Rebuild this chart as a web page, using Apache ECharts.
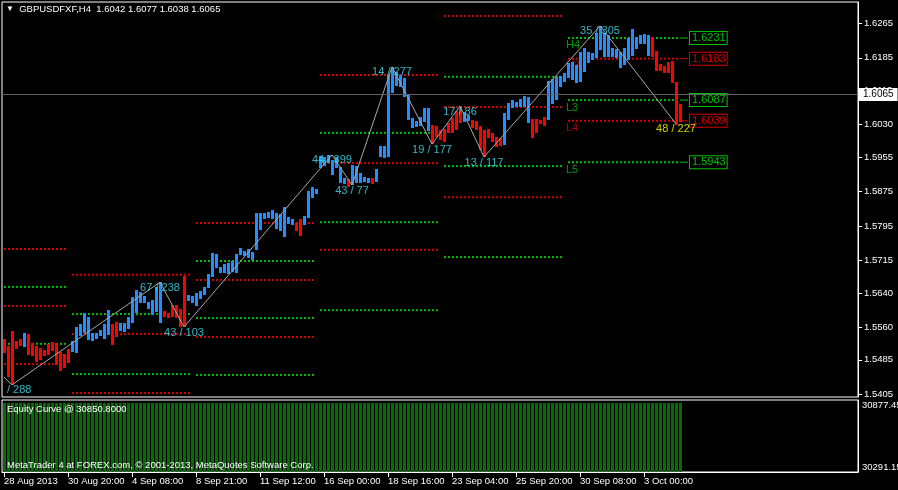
<!DOCTYPE html>
<html><head><meta charset="utf-8">
<script src="https://cdn.jsdelivr.net/npm/echarts@6/dist/echarts.min.js"></script>
<style>html,body{margin:0;padding:0;background:#000}#c{width:898px;height:490px}</style>
</head><body><div id="c"></div>
<script>
const FONT = 'Liberation Sans, Arial, sans-serif';
const slotCount = 214;
const tickLabels = ['28 Aug 2013','30 Aug 20:00','4 Sep 08:00','8 Sep 21:00','11 Sep 12:00','16 Sep 00:00','18 Sep 16:00','23 Sep 04:00','25 Sep 20:00','30 Sep 08:00','3 Oct 00:00'];
const priceTicks = [1.6265,1.6185,1.6110,1.6030,1.5955,1.5875,1.5795,1.5715,1.5640,1.5560,1.5485,1.5405];
const equityTicks = [30291.15, 30877.45];
const lastPrice = 1.6065;

const barOpen = [
1.5533,1.5517,1.5552,1.5529,1.5533,1.5515,1.5545,1.5524,1.5517,1.5512,
1.5508,1.5522,1.5526,1.5524,1.5503,1.5498,1.5510,1.5503,1.5501,1.5540,
1.5547,1.5531,1.5529,1.5533,1.5540,1.5533,1.5542,1.5568,1.5573,1.5552,
1.5550,1.5556,1.5570,1.5593,1.5617,1.5617,1.5603,1.5589,1.5596,1.5570,
1.5598,1.5593,1.5612,1.5612,1.5603,1.5679,1.5621,1.5617,1.5610,1.5626,
1.5635,1.5651,1.5677,1.5698,1.5686,1.5686,1.5684,1.5689,1.5686,1.5728,
1.5726,1.5721,1.5716,1.5740,1.5786,1.5811,1.5814,1.5811,1.5788,1.5784,
1.5770,1.5800,1.5797,1.5802,1.5811,1.5797,1.5814,1.5860,1.5869,1.5930,
1.5934,1.5941,1.5913,1.5930,1.5895,1.5892,1.5904,1.5890,1.5895,1.5895,
1.5897,1.5895,1.5906,1.5897,1.5955,1.5953,1.5955,1.6103,1.6120,1.6117,
1.6094,1.6041,1.6022,1.6025,1.6027,1.6036,1.6015,1.6029,1.6027,1.6018,
1.6020,1.6034,1.6046,1.6062,1.6073,1.6036,1.6039,1.6041,1.6039,1.6027,
1.6018,1.6020,1.6011,1.6001,1.5999,1.5983,1.6041,1.6069,1.6071,1.6071,
1.6071,1.6034,1.6043,1.6043,1.6041,1.6048,1.6041,1.6078,1.6087,1.6117,
1.6129,1.6138,1.6134,1.6127,1.6129,1.6152,1.6173,1.6180,1.6185,1.6203,
1.6187,1.6187,1.6187,1.6185,1.6161,1.6168,1.6180,1.6189,1.6205,1.6217,
1.6217,1.6189,1.6233,1.6201,1.6171,1.6166,1.6175,1.6178,1.6129,1.6078
];
const barClose = [
1.5501,1.5445,1.5427,1.5510,1.5517,1.5547,1.5496,1.5494,1.5480,1.5485,
1.5494,1.5496,1.5505,1.5473,1.5459,1.5466,1.5478,1.5529,1.5561,1.5568,
1.5593,1.5584,1.5547,1.5547,1.5554,1.5568,1.5600,1.5519,1.5538,1.5570,
1.5571,1.5584,1.5631,1.5647,1.5642,1.5633,1.5619,1.5624,1.5654,1.5665,
1.5584,1.5582,1.5584,1.5582,1.5561,1.5561,1.5635,1.5633,1.5640,1.5644,
1.5654,1.5684,1.5732,1.5730,1.5700,1.5707,1.5709,1.5714,1.5730,1.5744,
1.5737,1.5742,1.5735,1.5825,1.5825,1.5825,1.5828,1.5832,1.5825,1.5823,
1.5839,1.5816,1.5811,1.5784,1.5772,1.5818,1.5876,1.5886,1.5881,1.5957,
1.5955,1.5960,1.5948,1.5955,1.5932,1.5906,1.5886,1.5937,1.5934,1.5918,
1.5909,1.5906,1.5892,1.5927,1.5981,1.5980,1.6145,1.6164,1.6152,1.6145,
1.6138,1.6099,1.6046,1.6039,1.6048,1.6069,1.6069,1.5985,1.6001,1.5995,
1.5990,1.6011,1.6011,1.6018,1.6034,1.6059,1.6052,1.6022,1.6018,1.5971,
1.5955,1.5999,1.5990,1.5978,1.5980,1.6057,1.6080,1.6087,1.6083,1.6090,
1.6096,1.6094,1.5999,1.6011,1.6032,1.6027,1.6131,1.6136,1.6141,1.6143,
1.6150,1.6173,1.6175,1.6168,1.6199,1.6208,1.6199,1.6196,1.6243,1.6259,
1.6243,1.6238,1.6208,1.6205,1.6199,1.6208,1.6231,1.6252,1.6233,1.6238,
1.6240,1.6238,1.6187,1.6154,1.6154,1.6150,1.6150,1.6127,1.6030,1.6036
];

const equityValues = [
30850.8,30850.8,30850.8,30850.8,30850.8,30850.8,30850.8,30850.8,30850.8,30850.8,
30850.8,30850.8,30850.8,30850.8,30850.8,30850.8,30850.8,30850.8,30850.8,30850.8,
30850.8,30850.8,30850.8,30850.8,30850.8,30850.8,30850.8,30850.8,30850.8,30850.8,
30850.8,30850.8,30850.8,30850.8,30850.8,30850.8,30850.8,30850.8,30850.8,30850.8,
30850.8,30850.8,30850.8,30850.8,30850.8,30850.8,30850.8,30850.8,30850.8,30850.8,
30850.8,30850.8,30850.8,30850.8,30850.8,30850.8,30850.8,30850.8,30850.8,30850.8,
30850.8,30850.8,30850.8,30850.8,30850.8,30850.8,30850.8,30850.8,30850.8,30850.8,
30850.8,30850.8,30850.8,30850.8,30850.8,30850.8,30850.8,30850.8,30850.8,30850.8,
30850.8,30850.8,30850.8,30850.8,30850.8,30850.8,30850.8,30850.8,30850.8,30850.8,
30850.8,30850.8,30850.8,30850.8,30850.8,30850.8,30850.8,30850.8,30850.8,30850.8,
30850.8,30850.8,30850.8,30850.8,30850.8,30850.8,30850.8,30850.8,30850.8,30850.8,
30850.8,30850.8,30850.8,30850.8,30850.8,30850.8,30850.8,30850.8,30850.8,30850.8,
30850.8,30850.8,30850.8,30850.8,30850.8,30850.8,30850.8,30850.8,30850.8,30850.8,
30850.8,30850.8,30850.8,30850.8,30850.8,30850.8,30850.8,30850.8,30850.8,30850.8,
30850.8,30850.8,30850.8,30850.8,30850.8,30850.8,30850.8,30850.8,30850.8,30850.8,
30850.8,30850.8,30850.8,30850.8,30850.8,30850.8,30850.8,30850.8,30850.8,30850.8,
30850.8,30850.8,30850.8,30850.8,30850.8,30850.8,30850.8,30850.8,30850.8,30850.8
];

const zzIndex = [0,2,39,45,82,87,97,107,114,120,149,168];
const zzPrice = [1.5445,1.5427,1.5665,1.5561,1.5960,1.5890,1.6164,1.5985,1.6073,1.5955,1.6259,1.6032];
const zzText  = ['','/ 288','67 / 238','43 / 103','44 / 399','43 / 77','14 / 277','19 / 177','17 / 86','13 / 117','35 / 305','48 / 227'];

const weekStart = [0,17,48,79,110,141];
const weekEnd   = [16,47,78,109,140,169];
const pivH5 = [1.5742,1.5682,1.5802,1.6145,1.6282,null];
const pivH4 = [1.5654,1.5591,1.5714,1.6011,1.6141,1.6231];
const pivH3 = [1.5610,1.5545,1.5670,1.5941,1.6071,1.6183];
const pivL3 = [1.5522,1.5452,1.5582,1.5804,1.5934,1.6087];
const pivL4 = [1.5475,1.5408,1.5538,1.5740,1.5862,1.6039];
const pivL5 = [null,null,1.5450,1.5600,1.5723,1.5943];

const GREEN = '#00C000', RED = '#D80000';
const BOX_GREEN = '#00C000', BOX_RED = '#D00000';
const UP = '#1E90FF', DOWN = '#FF0000';
const levelSets = [
  {name:'H5', vals:pivH5, color:RED, box:BOX_RED},
  {name:'H4', vals:pivH4, color:GREEN, box:BOX_GREEN},
  {name:'H3', vals:pivH3, color:RED, box:BOX_RED},
  {name:'L3', vals:pivL3, color:GREEN, box:BOX_GREEN},
  {name:'L4', vals:pivL4, color:RED, box:BOX_RED},
  {name:'L5', vals:pivL5, color:GREEN, box:BOX_GREEN}
];

const categories = Array.from({length: slotCount}, (_, i) => String(i));
const barData = barOpen.map((o, i) => [i, o, barClose[i]]);
const equityData = equityValues.map((v, i) => [i, v]);

const series = [];
levelSets.forEach(ls => {
  ls.vals.forEach((v, w) => {
    if (v === null) return;
    series.push({
      type:'line', xAxisIndex:0, yAxisIndex:0, silent:true, symbol:'none', z:1,
      data:[[weekStart[w], v],[weekEnd[w], v]],
      lineStyle:{color:ls.color, width:2, type:[2,2]}
    });
  });
});
const lastW = weekStart.length - 1;
levelSets.forEach(ls => {
  const v = ls.vals[lastW];
  if (v === null) return;
  series.push({
    type:'line', xAxisIndex:0, yAxisIndex:0, silent:true, symbol:'none', z:1,
    data:[[weekEnd[lastW], v],[weekEnd[lastW] + 2, v]],
    lineStyle:{color:ls.box, width:1, type:'solid'},
    endLabel:{show:true, formatter: v.toFixed(4), color: ls.box, fontFamily:FONT, fontSize:11,
      borderColor: ls.box, borderWidth:1, backgroundColor:'#000', padding:[1,1,0,2], distance:2}
  });
});
series.push({
  type:'scatter', xAxisIndex:0, yAxisIndex:0, silent:true, symbolSize:0, z:2,
  data: levelSets.filter(ls => ls.vals[lastW] !== null).map(ls => ({
    value:[weekStart[lastW], ls.vals[lastW]],
    label:{show:true, formatter: ls.name, color: ls.color, fontFamily:FONT, fontSize:11,
      position:'inside', align:'left', verticalAlign:'top', offset:[-2, 2]}
  }))
});
series.push({
  type:'line', xAxisIndex:0, yAxisIndex:0, silent:true, symbol:'none', z:2,
  data:[],
  markLine:{silent:true, symbol:['none','none'],
    lineStyle:{color:'#606060', type:'solid', width:1},
    label:{show:true, position:'end', formatter: lastPrice.toFixed(4), color:'#000', backgroundColor:'#fff',
      fontFamily:FONT, fontSize:10, padding:[2,4,1,4], distance:1},
    data:[{yAxis:lastPrice}]}
});
series.push({
  type:'custom', xAxisIndex:0, yAxisIndex:0, silent:true, z:3,
  data: barData, encode:{x:0, y:[1,2]},
  renderItem:(params, api) => {
    const i = api.value(0), o = api.value(1), c = api.value(2);
    const p1 = api.coord([i, o]), p2 = api.coord([i, c]);
    const x = Math.round(p1[0]) - 1;
    const y1 = Math.round(Math.min(p1[1], p2[1]));
    const y2 = Math.round(Math.max(p1[1], p2[1]));
    return {type:'rect', shape:{x:x, y:y1, width:3, height:Math.max(1, y2 - y1)},
      style:{fill: c >= o ? UP : DOWN}};
  }
});
series.push({
  type:'line', xAxisIndex:0, yAxisIndex:0, silent:true, symbol:'none', z:4,
  data: zzIndex.map((x, k) => [x, zzPrice[k]]),
  lineStyle:{color:'#A8A8A8', width:1}
});
series.push({
  type:'scatter', xAxisIndex:0, yAxisIndex:0, silent:true, symbolSize:0, z:5,
  data: zzIndex.map((x, k) => {
    const last = k === zzIndex.length - 1;
    const first = k === 1;
    return {value:[x, zzPrice[k]], label:{show:true, formatter: zzText[k],
      color: last ? '#FFFF00' : '#40E0F0', fontFamily:FONT, fontSize:11,
      position:'inside', align: first ? 'left' : 'center', verticalAlign:'top', offset: first ? [-5, 0] : [0, 0]}};
  })
});
series.push({
  type:'custom', xAxisIndex:1, yAxisIndex:1, silent:true, z:2,
  data: equityData, encode:{x:0, y:1},
  renderItem:(params, api) => {
    const i = api.value(0), v = api.value(1);
    const top = api.coord([i, v]);
    const base = api.coord([i, equityTicks[0]]);
    const x = Math.round(top[0]) - 1;
    const y1 = Math.round(top[1]);
    return {type:'rect', shape:{x:x, y:y1, width:3, height:Math.round(base[1]) - y1},
      style:{fill:'#007000'}};
  }
});

const tickInterval = (i) => i % 16 === 0 && i / 16 < tickLabels.length;

const option = {
  animation:false,
  backgroundColor:'#000',
  title:[
    {left:6, top:4, padding:0, text:'{a|▼}  GBPUSDFXF,H4  1.6042 1.6077 1.6038 1.6065',
      textStyle:{color:'#fff', fontFamily:FONT, fontSize:9.5, fontWeight:'normal',
        rich:{a:{fontSize:8, color:'#fff'}}}},
    {left:7, top:404, padding:0, text:'Equity Curve @ 30850.8000',
      textStyle:{color:'#fff', fontFamily:FONT, fontSize:9.5, fontWeight:'normal'}},
    {left:7, top:460, padding:0, text:'MetaTrader 4 at FOREX.com, © 2001-2013, MetaQuotes Software Corp.',
      textStyle:{color:'#fff', fontFamily:FONT, fontSize:9.5, fontWeight:'normal'}}
  ],
  grid:[
    {left:2, top:2, width:856, height:395, show:true, borderColor:'#fff', borderWidth:1,
      backgroundColor:'transparent', outerBoundsMode:'none', containLabel:false},
    {left:2, top:400, width:856, height:72, show:true, borderColor:'#fff', borderWidth:1,
      backgroundColor:'transparent', outerBoundsMode:'none', containLabel:false}
  ],
  xAxis:[
    {gridIndex:0, type:'category', data:categories, boundaryGap:true,
      axisLine:{show:false}, axisTick:{show:false}, axisLabel:{show:false}, splitLine:{show:false}},
    {gridIndex:1, type:'category', data:categories, boundaryGap:true,
      axisLine:{show:true, lineStyle:{color:'#fff'}},
      axisTick:{show:true, interval:tickInterval, alignWithLabel:true, length:5, lineStyle:{color:'#fff'}},
      axisLabel:{show:true, interval:tickInterval, formatter:(v, i) => tickLabels[i / 16] || '',
        align:'left', color:'#fff', fontFamily:FONT, fontSize:9.5, margin:4},
      splitLine:{show:false}}
  ],
  yAxis:[
    {gridIndex:0, type:'value', position:'right', min:1.539877, max:1.631437, splitLine:{show:false},
      axisLine:{show:true, lineStyle:{color:'#fff'}},
      axisTick:{show:true, customValues:priceTicks, length:4, lineStyle:{color:'#fff'}},
      axisLabel:{show:true, customValues:priceTicks, formatter:v => v.toFixed(4),
        color:'#fff', fontFamily:FONT, fontSize:9.5, margin:6}},
    {gridIndex:1, type:'value', position:'right', min:30291.15, max:30877.45, splitLine:{show:false},
      axisLine:{show:true, lineStyle:{color:'#fff'}},
      axisTick:{show:false},
      axisLabel:{show:true, customValues:equityTicks, formatter:v => v.toFixed(2),
        verticalAlignMinLabel:'bottom', verticalAlignMaxLabel:'top',
        color:'#fff', fontFamily:FONT, fontSize:9.5, margin:4}}
  ],
  series: series
};
const chart = echarts.init(document.getElementById('c'), null, {renderer:'canvas'});
chart.setOption(option);
</script>
</body></html>
